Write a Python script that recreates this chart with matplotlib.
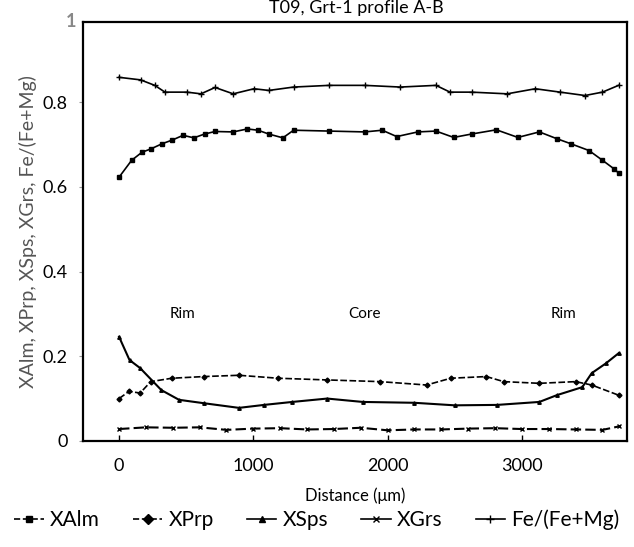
import numpy as np
import matplotlib
matplotlib.use("Agg")
import matplotlib.pyplot as plt
from matplotlib.lines import Line2D

# %%	values (distance in um)

fe_x = [0, 160, 266, 342, 505, 610, 715, 850, 1005, 1115, 1300, 1565, 1830,
        2095, 2360, 2465, 2625, 2890, 3100, 3285, 3470, 3600, 3720]
fe_y = [0.859, 0.853, 0.840, 0.824, 0.824, 0.820, 0.835, 0.820, 0.832, 0.828,
        0.836, 0.840, 0.840, 0.836, 0.840, 0.824, 0.824, 0.820, 0.832, 0.824,
        0.816, 0.824, 0.840]

alm_x = [0, 94, 171, 238, 320, 398, 477, 557, 637, 715, 850, 955, 1035, 1115,
         1220, 1300, 1565, 1830, 1960, 2068, 2225, 2360, 2492, 2625, 2810,
         2970, 3130, 3260, 3365, 3500, 3600, 3685, 3720]
alm_y = [0.623, 0.663, 0.682, 0.690, 0.702, 0.711, 0.722, 0.716, 0.725, 0.731,
         0.730, 0.737, 0.734, 0.725, 0.716, 0.734, 0.732, 0.730, 0.734, 0.719,
         0.730, 0.732, 0.717, 0.725, 0.735, 0.717, 0.730, 0.714, 0.702, 0.686,
         0.663, 0.643, 0.633]

prp_x = [0, 75, 157, 236, 393, 632, 893, 1185, 1550, 1945, 2290, 2470, 2735,
         2865, 3130, 3400, 3520, 3720]
prp_y = [0.100, 0.117, 0.113, 0.140, 0.148, 0.152, 0.155, 0.148, 0.144, 0.140,
         0.132, 0.148, 0.152, 0.140, 0.136, 0.140, 0.132, 0.108]

sps_x = [0, 78, 157, 315, 447, 632, 893, 1080, 1290, 1550, 1815, 2200, 2500,
         2815, 3130, 3260, 3450, 3520, 3625, 3720]
sps_y = [0.246, 0.191, 0.172, 0.120, 0.097, 0.089, 0.078, 0.085, 0.092, 0.100,
         0.092, 0.090, 0.084, 0.085, 0.092, 0.108, 0.127, 0.160, 0.183, 0.207]

grs_x = [0, 200, 400, 600, 800, 1000, 1200, 1400, 1600, 1800, 2000, 2200,
         2400, 2600, 2800, 3000, 3200, 3400, 3600, 3720]
grs_y = [0.028, 0.032, 0.031, 0.032, 0.026, 0.029, 0.030, 0.027, 0.028, 0.031,
         0.025, 0.027, 0.027, 0.029, 0.030, 0.028, 0.028, 0.027, 0.026, 0.034]

zone_labels = ["Rim", "Core", "Rim"]
zone_x = [470, 1825, 3310]
zone_y = 0.30

y_ticks = [0, 0.2, 0.4, 0.6, 0.8, 1.0]
y_tick_labels = ["0", "0.2", "0.4", "0.6", "0.8", "1"]
x_ticks = [0, 1000, 2000, 3000]

# %%	plot

plt.rcParams["font.family"] = ["Lato", "DejaVu Sans"]

fig = plt.figure(figsize=(6.34, 5.47), dpi=100)
ax = fig.add_axes([0.131, 0.194, 0.858, 0.766])

ms = 2.5
ax.plot(alm_x, alm_y, color="black", lw=1.2, marker="s", ms=ms)
ax.plot(prp_x, prp_y, color="black", lw=1.2, marker="D", ms=ms, ls=(0, (4, 1.5)))
ax.plot(sps_x, sps_y, color="black", lw=1.5, marker="^", ms=ms)
ax.plot(grs_x, grs_y, color="black", lw=1.5, marker="x", ms=ms, ls=(0, (5, 2)))
ax.plot(fe_x, fe_y, color="black", lw=1.2, marker="+", ms=4)

for lab, xx in zip(zone_labels, zone_x):
    ax.text(xx, zone_y, lab, ha="center", va="center", fontsize=11)

ax.set_xlim(-268, 3783)
ax.set_ylim(0, 0.99)
ax.set_xticks(x_ticks)
ax.set_xticklabels([str(v) for v in x_ticks], fontsize=13)
ax.tick_params(axis="x", direction="in", length=4, width=1, pad=12)
ax.set_yticks([v for v in y_ticks if v < 0.99])
ax.set_yticklabels(y_tick_labels[:-1], fontsize=13)
ax.tick_params(axis="y", direction="out", length=3, color="#999999", pad=8)
ax.text(-0.012, 1.0, y_tick_labels[-1], transform=ax.transAxes, ha="right",
        va="center", fontsize=13, color="#888888", fontweight="bold")

for sp in ax.spines.values():
    sp.set_linewidth(1.6)

ax.set_xlabel("Distance (\u03bcm)", fontsize=12, labelpad=10)
ax.set_ylabel("XAlm, XPrp, XSps, XGrs, Fe/(Fe+Mg)", fontsize=14,
              color="#555555", labelpad=4)

fig.text(356 / 634, 1 - 13 / 547, "T09, Grt-1 profile A-B", ha="center",
         va="baseline", fontsize=13)

handles = [
    Line2D([], [], color="black", lw=1.2, marker="s", ms=5, ls="--"),
    Line2D([], [], color="black", lw=1.2, marker="D", ms=5, ls="--"),
    Line2D([], [], color="black", lw=1.2, marker="^", ms=5),
    Line2D([], [], color="black", lw=1.2, marker="x", ms=5),
    Line2D([], [], color="black", lw=1.2, marker="+", ms=6),
]
names = ["XAlm", "XPrp", "XSps", "XGrs", "Fe/(Fe+Mg)"]
fig.legend(handles, names, loc="center", bbox_to_anchor=(0.5, 1 - 520 / 547),
           ncol=5, frameon=False, fontsize=15, handlelength=1.4,
           handletextpad=0.3, columnspacing=1.6)

fig.savefig("out.png", dpi=100)
